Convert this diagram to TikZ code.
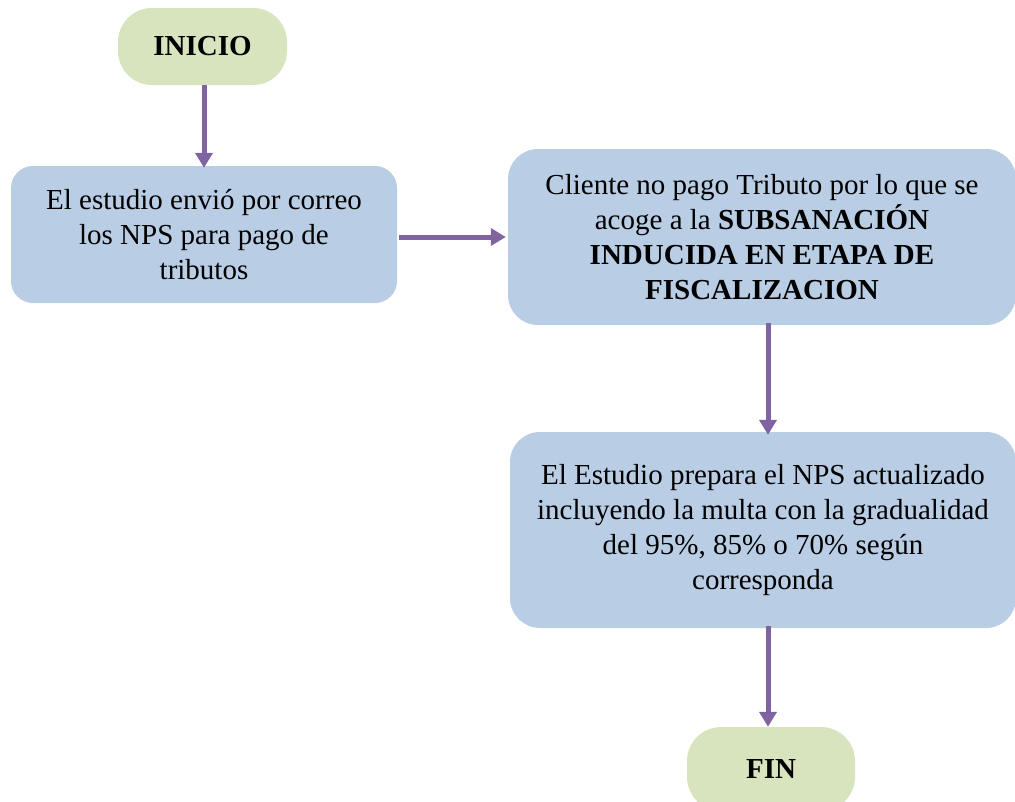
\documentclass[tikz,border=0pt]{standalone}
\usepackage{fontspec}
\setmainfont{Liberation Serif}
\usetikzlibrary{arrows.meta}
\definecolor{boxblue}{HTML}{B9CDE5}
\definecolor{boxgreen}{HTML}{D7E4BD}
\definecolor{arrowpurple}{HTML}{8064A2}
\tikzset{
  txt/.style={font=\fontsize{29}{35}\selectfont, align=center, inner sep=0pt},
  terminal/.style={txt, fill=boxgreen, rounded corners=34pt, font=\fontsize{29}{35}\selectfont\bfseries},
  process/.style={txt, fill=boxblue},
  flow/.style={arrowpurple, line width=5pt, -{Triangle[width=17pt,length=15pt]}},
}
\begin{document}
\begin{tikzpicture}[x=1pt,y=-1pt]
\useasboundingbox (0,0) rectangle (1015,801);
\node[terminal, minimum width=169pt, minimum height=77pt] (ini) at (202.5,46.5) {INICIO};
\node[process, rounded corners=22pt, minimum width=386pt, minimum height=137pt] (b1) at (204,234.5)
  {El estudio envió por correo\\los NPS para pago de\\tributos};
\node[process, rounded corners=30pt, minimum width=508pt, minimum height=176pt] (b2) at (762,237)
  {Cliente no pago Tributo por lo que se\\acoge a la \textbf{SUBSANACIÓN}\\\textbf{INDUCIDA EN ETAPA DE}\\\textbf{FISCALIZACION}};
\node[process, rounded corners=30pt, minimum width=506pt, minimum height=196pt] (b3) at (763,530)
  {El Estudio prepara el NPS actualizado\\incluyendo la multa con la gradualidad\\del 95\%, 85\% o 70\% según\\corresponda};
\node[terminal, minimum width=168pt, minimum height=84pt] (fin) at (771,769) {FIN};
\coordinate (c2) at (768,0);
\draw[flow] (ini.south -| b1.north) -- ([yshift=-2pt]b1.north);
\draw[flow] ([xshift=2pt]b1.east |- 0,237) -- ([xshift=-2pt]b2.west |- 0,237);
\draw[flow] ([yshift=2pt]b2.south -| c2) -- ([yshift=-3pt]b3.north -| c2);
\draw[flow] ([yshift=2pt]b3.south -| c2) -- (fin.north -| c2);
\end{tikzpicture}
\end{document}
